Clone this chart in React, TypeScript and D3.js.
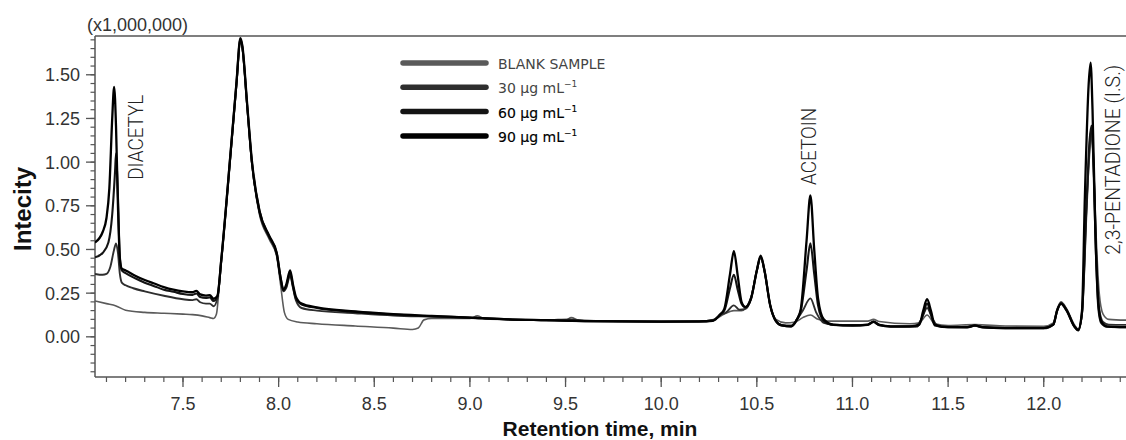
import { useEffect, useRef } from "react";
import * as d3 from "d3";

type Pt = [number, number];

// retention time (min), intensity (x1,000,000)
const blankSample: Pt[] = [
  [7.04, 0.205], [7.1, 0.19], [7.15, 0.177], [7.2, 0.152], [7.3, 0.14], [7.4, 0.135], [7.5, 0.13],
  [7.55, 0.127], [7.6, 0.12], [7.64, 0.11], [7.66, 0.105], [7.675, 0.13], [7.69, 0.3], [7.7, 0.42],
  [7.75, 1.05], [7.78, 1.44], [7.8, 1.69], [7.81, 1.65], [7.835, 1.32], [7.86, 0.99], [7.9, 0.7],
  [7.95, 0.56], [7.99, 0.46], [8.01, 0.3], [8.03, 0.14], [8.05, 0.1], [8.1, 0.085], [8.2, 0.075],
  [8.4, 0.062], [8.6, 0.05], [8.7, 0.042], [8.73, 0.05], [8.76, 0.097], [8.8, 0.105], [9.0, 0.105],
  [9.04, 0.12], [9.08, 0.102], [9.3, 0.097], [9.5, 0.095], [9.53, 0.11], [9.57, 0.095], [9.8, 0.09],
  [10.0, 0.088], [10.2, 0.088], [10.28, 0.1], [10.33, 0.13], [10.38, 0.15], [10.42, 0.15],
  [10.47, 0.23], [10.5, 0.38], [10.52, 0.45], [10.54, 0.37], [10.57, 0.18], [10.6, 0.1],
  [10.65, 0.08], [10.7, 0.085], [10.74, 0.11], [10.78, 0.125], [10.82, 0.1], [10.87, 0.09],
  [11.0, 0.09], [11.08, 0.09], [11.11, 0.1], [11.14, 0.088], [11.3, 0.075], [11.35, 0.08],
  [11.39, 0.125], [11.43, 0.075], [11.5, 0.065], [11.64, 0.07], [11.8, 0.062], [12.0, 0.06],
  [12.05, 0.08], [12.07, 0.16], [12.09, 0.2], [12.12, 0.16], [12.16, 0.07], [12.18, 0.045],
  [12.2, 0.12], [12.22, 0.65], [12.24, 1.05], [12.25, 1.16], [12.26, 1.0], [12.275, 0.55],
  [12.29, 0.25], [12.31, 0.13], [12.34, 0.1], [12.45, 0.095],
];

const conc30: Pt[] = [
  [7.04, 0.36], [7.08, 0.355], [7.1, 0.36], [7.12, 0.4], [7.14, 0.5], [7.15, 0.535], [7.16, 0.48],
  [7.17, 0.36], [7.18, 0.31], [7.2, 0.295], [7.24, 0.278], [7.3, 0.26], [7.4, 0.235], [7.5, 0.215],
  [7.55, 0.21], [7.57, 0.215], [7.59, 0.198], [7.62, 0.19], [7.64, 0.19], [7.66, 0.175],
  [7.68, 0.22], [7.7, 0.43], [7.75, 1.06], [7.78, 1.45], [7.8, 1.7], [7.81, 1.66], [7.835, 1.33],
  [7.86, 1.0], [7.9, 0.71], [7.95, 0.57], [7.99, 0.47], [8.01, 0.33], [8.025, 0.26], [8.04, 0.28],
  [8.06, 0.35], [8.075, 0.28], [8.09, 0.21], [8.12, 0.165], [8.2, 0.15], [8.4, 0.135],
  [8.6, 0.122], [8.8, 0.115], [9.0, 0.108], [9.2, 0.1], [9.4, 0.095], [9.52, 0.1], [9.6, 0.092],
  [9.8, 0.089], [10.0, 0.087], [10.2, 0.088], [10.27, 0.095], [10.31, 0.125], [10.34, 0.14],
  [10.38, 0.18], [10.41, 0.155], [10.44, 0.16], [10.47, 0.22], [10.5, 0.38], [10.52, 0.455],
  [10.54, 0.38], [10.57, 0.18], [10.6, 0.09], [10.63, 0.068], [10.68, 0.065], [10.71, 0.1],
  [10.74, 0.15], [10.78, 0.22], [10.81, 0.14], [10.85, 0.08], [10.9, 0.07], [11.0, 0.068],
  [11.08, 0.07], [11.11, 0.09], [11.14, 0.07], [11.2, 0.06], [11.33, 0.06], [11.36, 0.1],
  [11.39, 0.165], [11.42, 0.1], [11.45, 0.06], [11.6, 0.056], [11.64, 0.065], [11.68, 0.056],
  [11.8, 0.052], [12.0, 0.05], [12.05, 0.07], [12.07, 0.15], [12.09, 0.195], [12.12, 0.155],
  [12.16, 0.06], [12.18, 0.038], [12.2, 0.13], [12.225, 0.75], [12.24, 1.1], [12.25, 1.19],
  [12.26, 1.0], [12.275, 0.45], [12.29, 0.16], [12.31, 0.085], [12.34, 0.07], [12.45, 0.068],
];

const conc60: Pt[] = [
  [7.04, 0.455], [7.08, 0.48], [7.11, 0.54], [7.13, 0.7], [7.145, 0.95], [7.15, 1.05],
  [7.16, 0.8], [7.17, 0.45], [7.18, 0.38], [7.2, 0.365], [7.25, 0.335], [7.3, 0.31], [7.35, 0.29],
  [7.4, 0.27], [7.45, 0.258], [7.5, 0.245], [7.55, 0.24], [7.57, 0.248], [7.59, 0.228],
  [7.62, 0.222], [7.64, 0.225], [7.66, 0.205], [7.68, 0.23], [7.7, 0.44], [7.75, 1.07],
  [7.78, 1.46], [7.8, 1.705], [7.81, 1.66], [7.835, 1.33], [7.86, 1.0], [7.9, 0.72], [7.95, 0.575],
  [7.99, 0.48], [8.01, 0.34], [8.025, 0.265], [8.04, 0.29], [8.06, 0.37], [8.075, 0.29],
  [8.09, 0.22], [8.12, 0.185], [8.2, 0.165], [8.4, 0.143], [8.6, 0.128], [8.8, 0.118],
  [9.0, 0.11], [9.2, 0.1], [9.4, 0.095], [9.6, 0.09], [9.8, 0.088], [10.0, 0.087], [10.2, 0.088],
  [10.27, 0.092], [10.31, 0.13], [10.33, 0.15], [10.36, 0.28], [10.38, 0.355], [10.4, 0.27],
  [10.42, 0.19], [10.44, 0.17], [10.47, 0.22], [10.5, 0.38], [10.52, 0.46], [10.54, 0.38],
  [10.57, 0.18], [10.6, 0.09], [10.63, 0.065], [10.68, 0.06], [10.71, 0.1], [10.73, 0.15],
  [10.76, 0.38], [10.78, 0.535], [10.8, 0.36], [10.82, 0.18], [10.85, 0.09], [10.9, 0.068],
  [11.0, 0.064], [11.08, 0.068], [11.11, 0.085], [11.14, 0.066], [11.2, 0.058], [11.34, 0.06],
  [11.37, 0.13], [11.39, 0.19], [11.41, 0.13], [11.43, 0.065], [11.5, 0.055], [11.6, 0.054],
  [11.64, 0.063], [11.68, 0.054], [11.8, 0.05], [12.0, 0.049], [12.05, 0.07], [12.07, 0.15],
  [12.09, 0.19], [12.12, 0.15], [12.16, 0.058], [12.18, 0.036], [12.2, 0.14], [12.225, 0.8],
  [12.24, 1.13], [12.25, 1.21], [12.26, 0.98], [12.272, 0.5], [12.285, 0.17], [12.3, 0.08],
  [12.33, 0.058], [12.45, 0.055],
];

const conc90: Pt[] = [
  [7.04, 0.54], [7.08, 0.6], [7.1, 0.68], [7.115, 0.85], [7.13, 1.25], [7.14, 1.43],
  [7.15, 1.2], [7.16, 0.75], [7.17, 0.45], [7.18, 0.39], [7.2, 0.38], [7.25, 0.35], [7.3, 0.325],
  [7.35, 0.305], [7.4, 0.285], [7.45, 0.27], [7.5, 0.26], [7.55, 0.255], [7.57, 0.263],
  [7.59, 0.243], [7.62, 0.236], [7.64, 0.238], [7.66, 0.218], [7.68, 0.235], [7.7, 0.44],
  [7.75, 1.07], [7.78, 1.46], [7.8, 1.71], [7.81, 1.67], [7.835, 1.34], [7.86, 1.01], [7.9, 0.72],
  [7.95, 0.58], [7.99, 0.48], [8.01, 0.34], [8.025, 0.27], [8.04, 0.3], [8.06, 0.38],
  [8.075, 0.3], [8.09, 0.23], [8.12, 0.19], [8.2, 0.168], [8.4, 0.145], [8.6, 0.13], [8.8, 0.12],
  [9.0, 0.11], [9.2, 0.1], [9.4, 0.095], [9.6, 0.09], [9.8, 0.088], [10.0, 0.087], [10.2, 0.088],
  [10.27, 0.092], [10.31, 0.13], [10.33, 0.16], [10.36, 0.36], [10.38, 0.49], [10.4, 0.35],
  [10.42, 0.2], [10.44, 0.17], [10.47, 0.22], [10.5, 0.38], [10.52, 0.465], [10.54, 0.38],
  [10.57, 0.18], [10.6, 0.09], [10.63, 0.065], [10.68, 0.06], [10.71, 0.1], [10.73, 0.16],
  [10.76, 0.55], [10.78, 0.81], [10.8, 0.5], [10.82, 0.22], [10.85, 0.1], [10.9, 0.07],
  [11.0, 0.065], [11.08, 0.07], [11.11, 0.085], [11.14, 0.068], [11.2, 0.06], [11.3, 0.06],
  [11.35, 0.07], [11.37, 0.15], [11.39, 0.215], [11.41, 0.15], [11.43, 0.07], [11.5, 0.055],
  [11.6, 0.055], [11.64, 0.065], [11.68, 0.055], [11.8, 0.05], [12.0, 0.05], [12.05, 0.07],
  [12.07, 0.15], [12.09, 0.19], [12.12, 0.15], [12.16, 0.06], [12.18, 0.04], [12.2, 0.15],
  [12.215, 0.8], [12.235, 1.45], [12.245, 1.57], [12.255, 1.3], [12.27, 0.6], [12.285, 0.2],
  [12.3, 0.09], [12.33, 0.06], [12.45, 0.055],
];

const seriesData = [blankSample, conc30, conc60, conc90];
const legendLabels = ["BLANK SAMPLE", "30 μg mL", "60 μg mL", "90 μg mL"];
const legendSup = ["", "−1", "−1", "−1"];
const lineColors = ["#5a5a5a", "#2e2e2e", "#141414", "#000000"];
const lineWidths = [1.6, 1.9, 2.1, 2.3];

const yMajorTicks = [0, 0.25, 0.5, 0.75, 1.0, 1.25, 1.5];
const xMajorTicks = [7.5, 8.0, 8.5, 9.0, 9.5, 10.0, 10.5, 11.0, 11.5, 12.0];

// compound labels: name, time, intensity at label centre
const peakNames = ["DIACETYL", "ACETOIN", "2,3-PENTADIONE (I.S.)"];
const peakLabelTime = [7.29, 10.809, 12.4];
const peakLabelValue = [1.142, 1.09, 1.013];
const peakLabelLength = [85, 77, 190];

const App = () => {
  const ref = useRef<SVGSVGElement>(null);

  useEffect(() => {
    const svg = d3.select(ref.current);
    svg.selectAll("*").remove();

    const left = 95, right = 1126, top = 36, bottom = 377;
    const axisColor = "#555";
    const tickFont = "'Liberation Sans', Arial, sans-serif";

    const x = d3.scaleLinear().domain([7.04, 12.43]).range([left, right]);
    const y = d3.scaleLinear().domain([-0.23, 1.722]).range([bottom, top]);

    svg.append("defs").append("clipPath").attr("id", "plot-clip")
      .append("rect").attr("x", left).attr("y", top).attr("width", right - left).attr("height", bottom - top);

    // frame
    svg.append("line").attr("x1", left).attr("x2", right).attr("y1", top).attr("y2", top)
      .attr("stroke", axisColor).attr("stroke-width", 1.3);

    // y axis
    const yMinor = d3.range(-0.2, 1.7001, 0.05).map((v) => +v.toFixed(2));
    const gy = svg.append("g");
    gy.append("line").attr("x1", left).attr("x2", left).attr("y1", top).attr("y2", bottom)
      .attr("stroke", axisColor).attr("stroke-width", 1.5);
    gy.selectAll(".ymin").data(yMinor).join("line")
      .attr("x1", left - 4.5).attr("x2", left).attr("y1", (d) => y(d)).attr("y2", (d) => y(d))
      .attr("stroke", axisColor).attr("stroke-width", 1.2);
    gy.selectAll(".ymaj").data(yMajorTicks).join("line")
      .attr("x1", left - 9).attr("x2", left).attr("y1", (d) => y(d)).attr("y2", (d) => y(d))
      .attr("stroke", axisColor).attr("stroke-width", 1.3);
    gy.selectAll("text").data(yMajorTicks).join("text")
      .attr("x", left - 15).attr("y", (d) => y(d) + 6.5)
      .attr("text-anchor", "end").attr("font-family", tickFont).attr("font-size", 18)
      .attr("fill", "#333").text((d) => d3.format(".2f")(d));

    // x axis
    const xMinor = d3.range(7.1, 12.4001, 0.1).map((v) => +v.toFixed(1));
    const gx = svg.append("g");
    gx.append("line").attr("x1", left).attr("x2", right).attr("y1", bottom).attr("y2", bottom)
      .attr("stroke", axisColor).attr("stroke-width", 1.5);
    gx.selectAll(".xmin").data(xMinor).join("line")
      .attr("x1", (d) => x(d)).attr("x2", (d) => x(d)).attr("y1", bottom).attr("y2", bottom + 5)
      .attr("stroke", axisColor).attr("stroke-width", 1.2);
    gx.selectAll(".xmaj").data(xMajorTicks).join("line")
      .attr("x1", (d) => x(d)).attr("x2", (d) => x(d)).attr("y1", bottom).attr("y2", bottom + 10)
      .attr("stroke", axisColor).attr("stroke-width", 1.3);
    gx.selectAll("text").data(xMajorTicks).join("text")
      .attr("x", (d) => x(d)).attr("y", 410)
      .attr("text-anchor", "middle").attr("font-family", tickFont).attr("font-size", 18)
      .attr("fill", "#333").text((d) => d3.format(".1f")(d));

    svg.append("text").attr("x", 600).attr("y", 436).attr("text-anchor", "middle")
      .attr("font-family", "'Liberation Sans', Arial, sans-serif").attr("font-weight", "bold")
      .attr("font-size", 21).attr("fill", "#111").text("Retention time, min");

    svg.append("text").attr("x", 87).attr("y", 31).attr("font-family", tickFont)
      .attr("font-size", 18).attr("fill", "#333").text("(x1,000,000)");

    svg.append("text").attr("transform", "translate(31,209) rotate(-90)").attr("text-anchor", "middle")
      .attr("font-family", "'Liberation Sans', Arial, sans-serif").attr("font-weight", "bold")
      .attr("font-size", 24).attr("fill", "#111").text("Intecity");

    // traces
    const line = d3.line<Pt>().x((d) => x(d[0])).y((d) => y(d[1])).curve(d3.curveMonotoneX);
    svg.append("g").attr("clip-path", "url(#plot-clip)")
      .selectAll("path").data(seriesData).join("path")
      .attr("d", (d) => line(d))
      .attr("fill", "none")
      .attr("stroke", (_, i) => lineColors[i])
      .attr("stroke-width", (_, i) => lineWidths[i])
      .attr("stroke-linejoin", "round");

    // peak labels
    svg.append("g").selectAll("text").data(peakNames).join("text")
      .attr("transform", (_, i) => `translate(${x(peakLabelTime[i])},${y(peakLabelValue[i])}) rotate(-90)`)
      .attr("text-anchor", "middle")
      .attr("font-family", "Roboto, 'Liberation Sans', sans-serif").attr("font-weight", 300)
      .attr("font-size", 20).attr("fill", "#222")
      .attr("textLength", (_, i) => peakLabelLength[i]).attr("lengthAdjust", "spacingAndGlyphs")
      .text((d) => d);

    // legend
    const lg = svg.append("g");
    legendLabels.forEach((label, i) => {
      const cy = 63 + i * 24.3;
      lg.append("line").attr("x1", 403).attr("x2", 486).attr("y1", cy).attr("y2", cy)
        .attr("stroke", lineColors[i]).attr("stroke-width", 5.5).attr("stroke-linecap", "round");
      const t = lg.append("text").attr("x", 498).attr("y", cy + 6)
        .attr("font-family", "'DejaVu Sans', sans-serif").attr("font-size", 14)
        .attr("fill", i < 2 ? "#444" : "#000")
        .attr("stroke", i < 2 ? "none" : "#000").attr("stroke-width", 0.15);
      t.append("tspan").text(label);
      if (legendSup[i]) t.append("tspan").attr("dy", -6).attr("font-size", 9).text(legendSup[i]);
    });
  }, []);

  return (
    <svg ref={ref} width={1126} height={440}
      style={{ position: "absolute", left: 0, top: 0, background: "#fff" }} />
  );
};

export default App;
